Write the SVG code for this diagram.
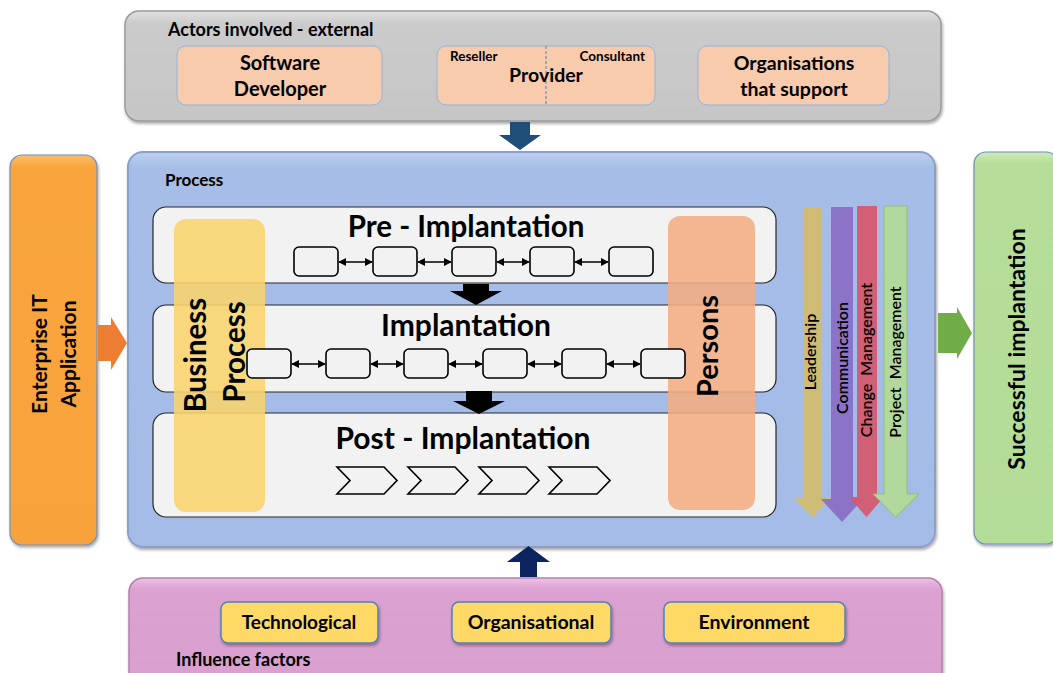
<svg xmlns="http://www.w3.org/2000/svg" width="1053" height="673" viewBox="0 0 1053 673">
<style>
text{font-family:Lato,"Open Sans","Liberation Sans",sans-serif;font-weight:bold;fill:#000}
.mid{text-anchor:middle}
.phase{fill:#f2f2f2;stroke:#262626;stroke-width:1.2}
.sb{fill:#f2f2f2;stroke:#000;stroke-width:1.6}
.dbl{stroke:#000;stroke-width:1.5;marker-start:url(#ah);marker-end:url(#ah)}
.actor{fill:#f8cbad;stroke:#8fb4e0;stroke-width:1}
.factor{fill:#ffd966;stroke:#4f81bd;stroke-width:1.5}
.chev{fill:#f2f2f2;stroke:#000;stroke-width:1.6}
.arrlbl{font-size:16.5;font-weight:600}
</style>
<defs>
<marker id="ah" viewBox="0 0 10 10" refX="9" refY="5" markerWidth="5.5" markerHeight="5.5" orient="auto-start-reverse" markerUnits="strokeWidth">
<path d="M0,0 L10,5 L0,10 z" fill="#000"/>
</marker>
<filter id="sh" x="-5%" y="-5%" width="110%" height="115%">
<feDropShadow dx="1" dy="2" stdDeviation="1.5" flood-color="#000" flood-opacity="0.35"/>
</filter>
<linearGradient id="gGray" x1="0" y1="0" x2="0" y2="1"><stop offset="0" stop-color="#e0e0e0"/><stop offset="0.12" stop-color="#cbcbcb"/><stop offset="1" stop-color="#c6c6c6"/></linearGradient>
<linearGradient id="gBlue" x1="0" y1="0" x2="0" y2="1"><stop offset="0" stop-color="#bcd0f0"/><stop offset="0.04" stop-color="#a5bde7"/><stop offset="1" stop-color="#a3bbe6"/></linearGradient>
<linearGradient id="gPink" x1="0" y1="0" x2="0" y2="1"><stop offset="0" stop-color="#efc0e6"/><stop offset="0.1" stop-color="#dba1d1"/><stop offset="1" stop-color="#d99fcf"/></linearGradient>
<linearGradient id="gOrange" x1="0" y1="0" x2="0" y2="1"><stop offset="0" stop-color="#fbbf6c"/><stop offset="0.03" stop-color="#f9a53e"/><stop offset="1" stop-color="#f8a23a"/></linearGradient>
<linearGradient id="gGreen" x1="0" y1="0" x2="0" y2="1"><stop offset="0" stop-color="#cdebb8"/><stop offset="0.03" stop-color="#b6de9a"/><stop offset="1" stop-color="#b3dc96"/></linearGradient>
</defs>

<g id="actors">
<rect x="125" y="11" width="816" height="110" rx="14" fill="url(#gGray)" stroke="#9a9a9a" stroke-width="1.5" filter="url(#sh)"/>
<text x="168" y="36" font-size="18">Actors involved - external</text>
</g>
<g id="software-developer">
<rect class="actor" x="177" y="46" width="205" height="59" rx="9"/>
<text class="mid" x="280" y="70" font-size="20">Software</text>
<text class="mid" x="280" y="96" font-size="20">Developer</text>
</g>
<g id="provider">
<rect class="actor" x="437" y="46" width="218" height="59" rx="9"/>
<line x1="546" y1="46" x2="546" y2="105" stroke="#4f81bd" stroke-width="1" stroke-dasharray="3,2"/>
<text x="450" y="61" font-size="13.5">Reseller</text>
<text x="645" y="61" font-size="13.5" text-anchor="end">Consultant</text>
<text class="mid" x="546" y="82" font-size="19.5">Provider</text>
</g>
<g id="organisations">
<rect class="actor" x="698" y="46" width="191" height="59" rx="9"/>
<text class="mid" x="794" y="70" font-size="19.5">Organisations</text>
<text class="mid" x="794" y="96" font-size="19.5">that support</text>
</g>

<g id="enterprise-it">
<rect x="10" y="155" width="87" height="390" rx="12" fill="url(#gOrange)" stroke="#6f8fbf" stroke-width="1.2" filter="url(#sh)"/>
<text class="mid" transform="translate(0,354) rotate(-90)" x="0" y="47" font-size="21">Enterprise IT</text>
<text class="mid" transform="translate(0,354) rotate(-90)" x="0" y="76" font-size="21">Application</text>
</g>

<g id="successful">
<rect x="974" y="152" width="84" height="392" rx="12" fill="url(#gGreen)" stroke="#6f8fbf" stroke-width="1.2" filter="url(#sh)"/>
<text class="mid" transform="translate(1025,349) rotate(-90)" x="0" y="0" font-size="23">Successful implantation</text>
</g>

<g id="process">
<rect x="128" y="152" width="807" height="395" rx="15" fill="url(#gBlue)" stroke="#8aa0c8" stroke-width="2" filter="url(#sh)"/>
<text x="165" y="186" font-size="17">Process</text>
</g>

<g id="pre-implantation">
<rect class="phase" x="153" y="207" width="623" height="76" rx="13"/>
<text class="mid" x="466" y="237" font-size="29.5">Pre - Implantation</text>
</g>
<g id="implantation">
<rect class="phase" x="153" y="305" width="623" height="87" rx="13"/>
<text class="mid" x="466" y="336" font-size="30">Implantation</text>
</g>
<g id="post-implantation">
<rect class="phase" x="153" y="413" width="623" height="104" rx="13"/>
<text class="mid" x="463" y="449" font-size="30">Post - Implantation</text>
</g>

<g id="business-process">
<rect x="174" y="219" width="91" height="293" rx="12" fill="#f9d46c" opacity="0.88"/>
</g>
<g id="persons">
<rect x="668" y="216" width="87" height="294" rx="12" fill="#f2ad82" opacity="0.88"/>
</g>

<g id="connectors">
<path d="M510,122 L530,122 L530,135 L541,135 L520,150 L499,135 L510,135 Z" fill="#1f4e79"/>
<path d="M520,577 L537,577 L537,562 L550,562 L528.5,546 L507,562 L520,562 Z" fill="#0b2460"/>
<path d="M98,325 L111,325 L111,317 L127,343 L111,370 L111,361 L98,361 Z" fill="#ed7d31"/>
<path d="M938,313 L957,313 L957,307 L972,333 L957,359 L957,353 L938,353 Z" fill="#70ad47"/>
<path d="M463,284 L489,284 L489,291 L502,291 L476,305 L450,291 L463,291 Z" fill="#000"/>
<path d="M466,391 L492,391 L492,401 L505,401 L479,414 L453,401 L466,401 Z" fill="#000"/>
<rect class="sb" x="294" y="247" width="44" height="29" rx="5"/>
<rect class="sb" x="373" y="247" width="44" height="29" rx="5"/>
<rect class="sb" x="452" y="247" width="44" height="29" rx="5"/>
<rect class="sb" x="530" y="247" width="44" height="29" rx="5"/>
<rect class="sb" x="609" y="247" width="44" height="29" rx="5"/>
<line class="dbl" x1="339" y1="262" x2="372" y2="262"/>
<line class="dbl" x1="418" y1="262" x2="451" y2="262"/>
<line class="dbl" x1="497" y1="262" x2="529" y2="262"/>
<line class="dbl" x1="575" y1="262" x2="608" y2="262"/>
<rect class="sb" x="247" y="349" width="44" height="29" rx="5"/>
<rect class="sb" x="326" y="349" width="44" height="29" rx="5"/>
<rect class="sb" x="404" y="349" width="44" height="29" rx="5"/>
<rect class="sb" x="483" y="349" width="44" height="29" rx="5"/>
<rect class="sb" x="562" y="349" width="44" height="29" rx="5"/>
<rect class="sb" x="641" y="349" width="44" height="29" rx="5"/>
<line class="dbl" x1="292" y1="364" x2="325" y2="364"/>
<line class="dbl" x1="371" y1="364" x2="403" y2="364"/>
<line class="dbl" x1="449" y1="364" x2="482" y2="364"/>
<line class="dbl" x1="528" y1="364" x2="561" y2="364"/>
<line class="dbl" x1="607" y1="364" x2="640" y2="364"/>
<path class="chev" d="M337,467 L384,467 L397,480.5 L384,494 L337,494 L350,480.5 Z"/>
<path class="chev" d="M408,467 L455,467 L468,480.5 L455,494 L408,494 L421,480.5 Z"/>
<path class="chev" d="M479,467 L526,467 L539,480.5 L526,494 L479,494 L492,480.5 Z"/>
<path class="chev" d="M549,467 L597,467 L610,480.5 L597,494 L549,494 L562,480.5 Z"/>
</g>

<g id="labels-overlay">
<text class="mid" transform="translate(220,355) rotate(-90)" x="0" y="-14" font-size="29.5">Business</text>
<text class="mid" transform="translate(220,352) rotate(-90)" x="0" y="25" font-size="29.5">Process</text>
<text class="mid" transform="translate(708,346) rotate(-90)" x="0" y="10" font-size="29">Persons</text>
</g>

<g id="leadership">
<path d="M803,207 L822,207 L822,497 L832,497 L812.5,517 L793,497 L803,497 Z" fill="#d1bb6e" opacity="0.95"/>
<text class="mid arrlbl" transform="translate(816,352) rotate(-90)">Leadership</text>
</g>
<g id="communication">
<path d="M831,207 L853,207 L853,499 L863,499 L842,522 L821,499 L831,499 Z" fill="#8a6fc6" opacity="0.95"/>
<text class="mid arrlbl" transform="translate(848,358) rotate(-90)">Communication</text>
</g>
<g id="change-management">
<path d="M857,206 L877,206 L877,497 L884,497 L866.5,517 L849,497 L857,497 Z" fill="#d45a70" opacity="0.95"/>
<text class="mid arrlbl" transform="translate(872,360) rotate(-90)" xml:space="preserve">Change  Management</text>
</g>
<g id="project-management">
<path d="M884,206 L907,206 L907,494 L919,494 L895.5,517 L873,494 L884,494 Z" fill="#b2d89d" stroke="#8cc56c" stroke-width="1"/>
<text class="mid arrlbl" transform="translate(901,362) rotate(-90)" xml:space="preserve">Project  Management</text>
</g>

<g id="influence">
<rect x="129" y="578" width="813" height="110" rx="14" fill="url(#gPink)" stroke="#b581ab" stroke-width="1.5" filter="url(#sh)"/>
<text x="176" y="666" font-size="18">Influence factors</text>
</g>
<g id="technological">
<rect class="factor" x="221" y="602" width="157" height="41" rx="7" filter="url(#sh)"/>
<text class="mid" x="299" y="629" font-size="19">Technological</text>
</g>
<g id="organisational">
<rect class="factor" x="452" y="602" width="159" height="41" rx="7" filter="url(#sh)"/>
<text class="mid" x="531" y="629" font-size="19.5">Organisational</text>
</g>
<g id="environment">
<rect class="factor" x="664" y="602" width="181" height="41" rx="7" filter="url(#sh)"/>
<text class="mid" x="754" y="629" font-size="19.5">Environment</text>
</g>
</svg>
